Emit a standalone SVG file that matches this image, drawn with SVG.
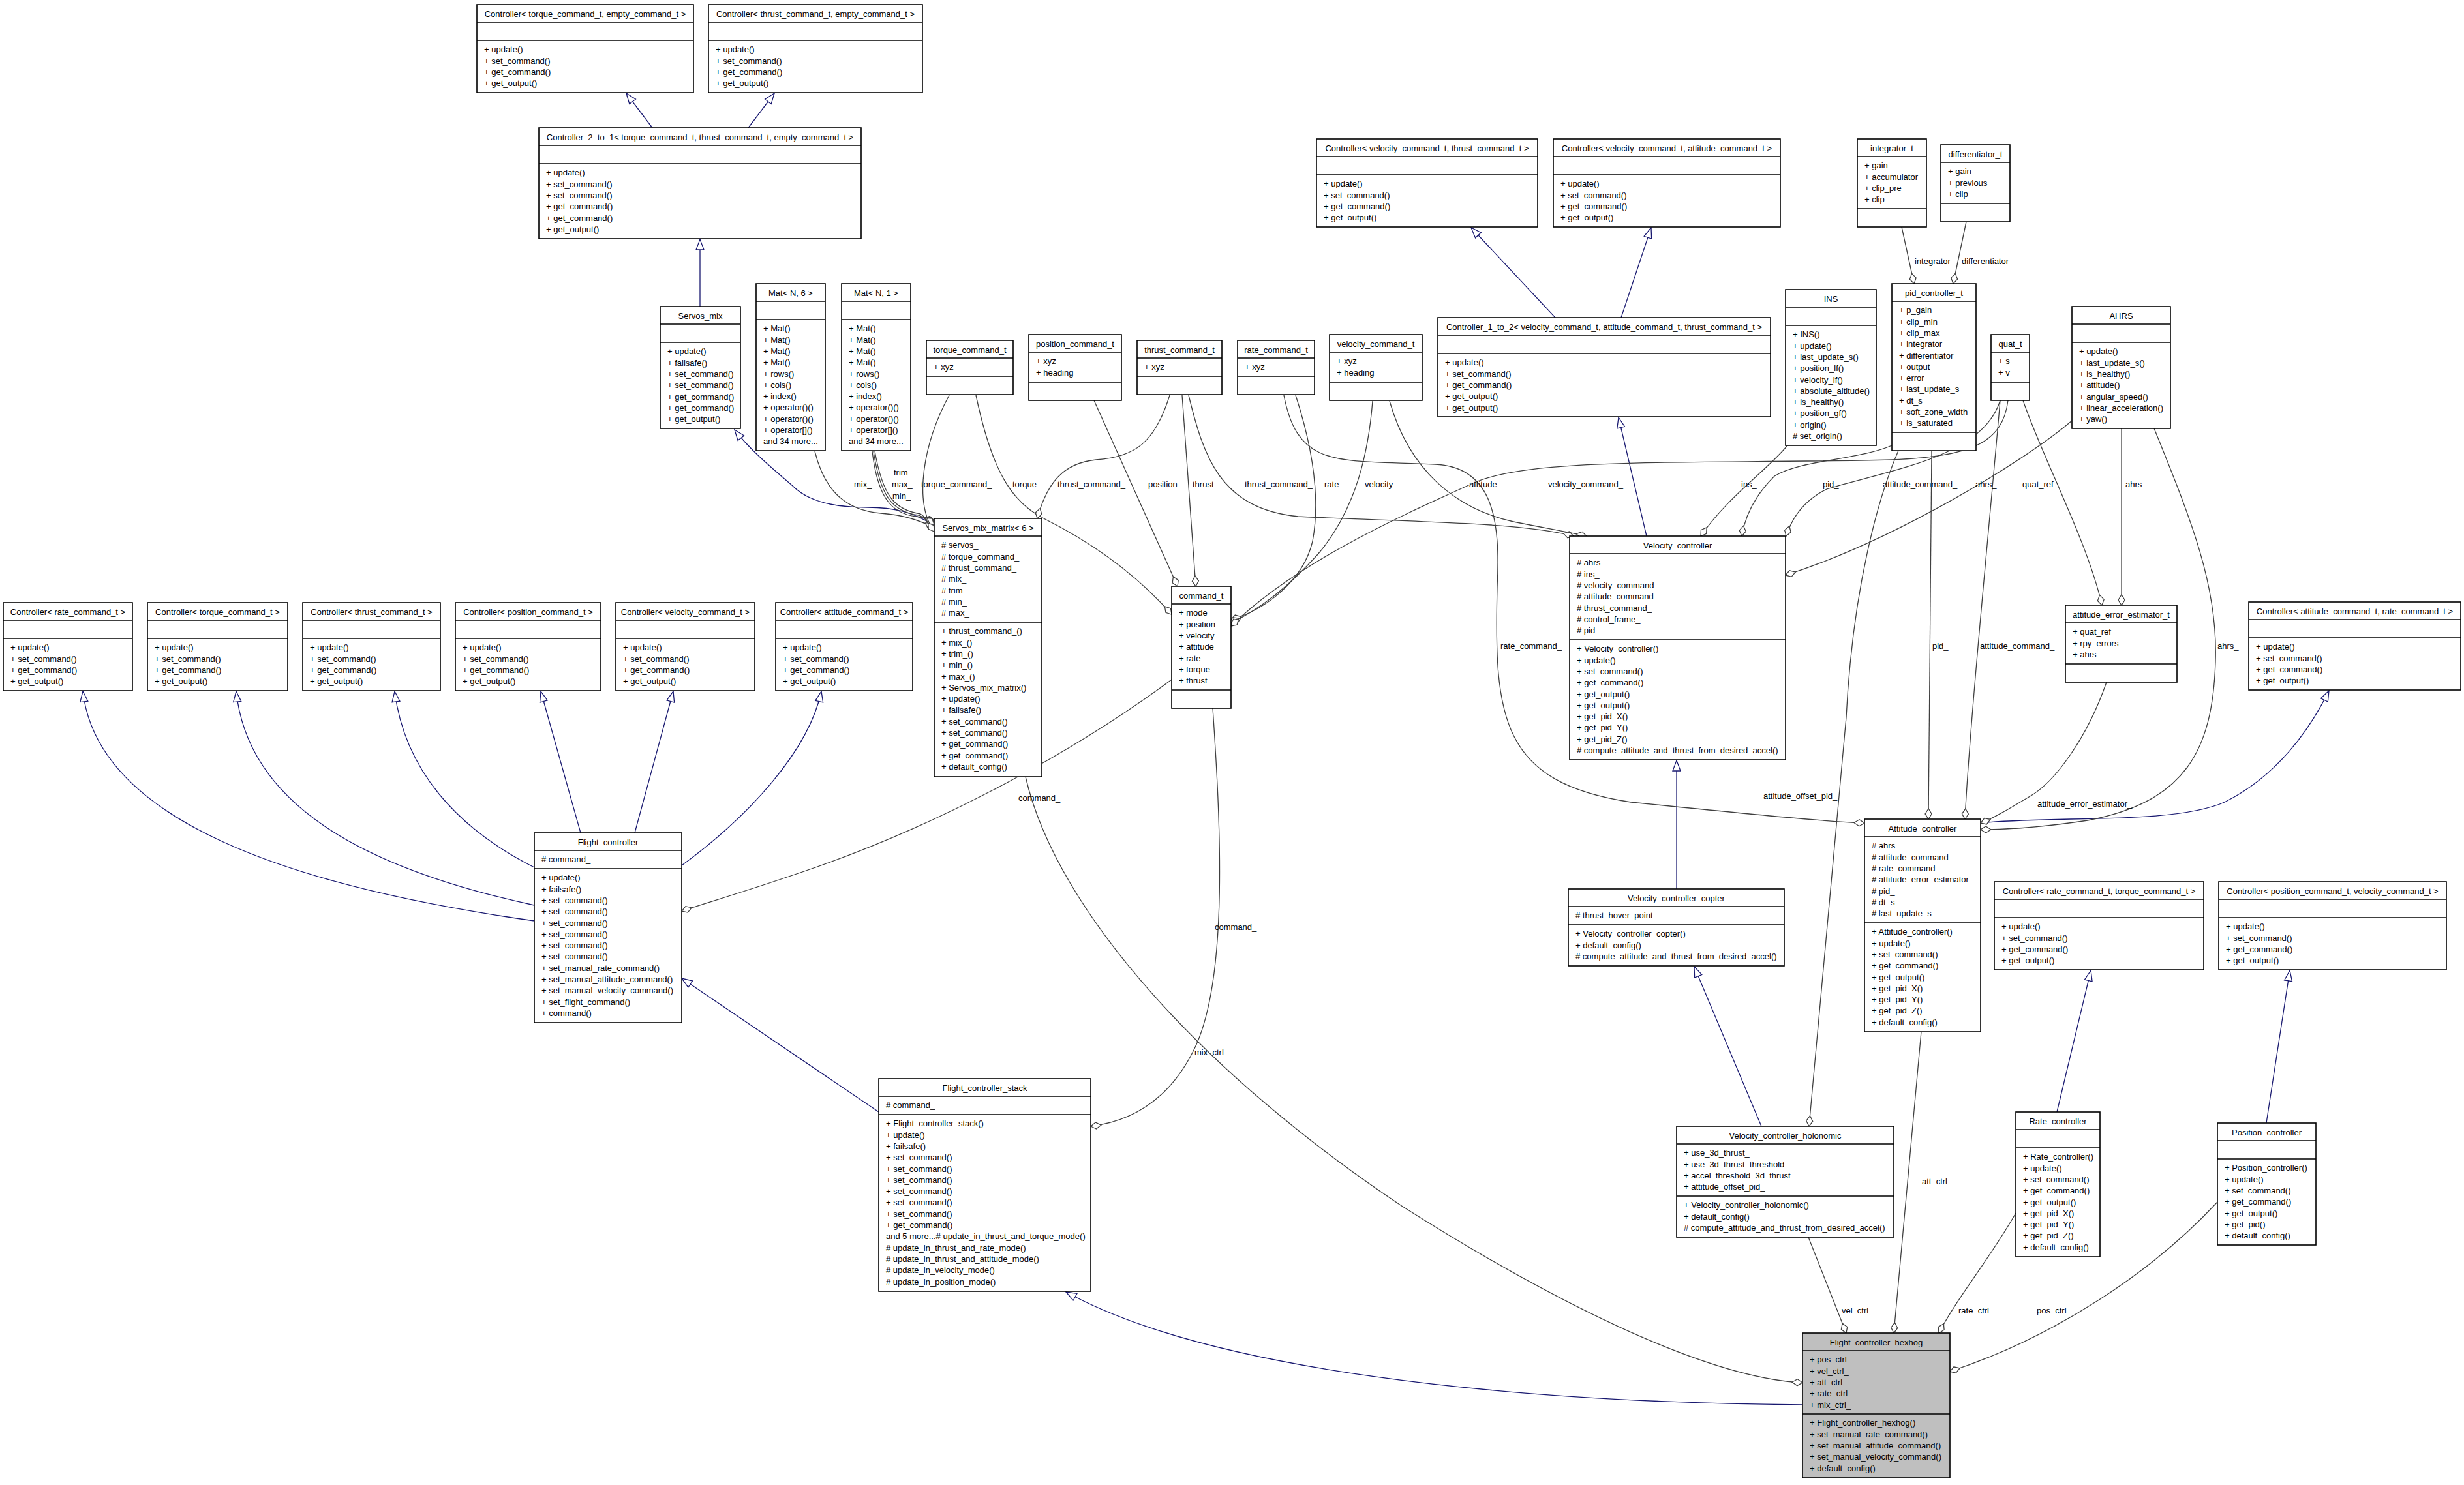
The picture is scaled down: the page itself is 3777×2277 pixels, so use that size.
<svg xmlns="http://www.w3.org/2000/svg" width="3777" height="2277" viewBox="0 0 3777 2277">
<style>
text{font-family:"Liberation Sans",Arial,Helvetica,sans-serif;font-size:13px;fill:#000}
.t{text-anchor:middle}
.n rect{fill:#fff;stroke:#000;stroke-width:1.6}
.n line{stroke:#000;stroke-width:1.6}
.hx rect{fill:#bfbfbf}
.e{fill:none;stroke:#404040;stroke-width:1.3;marker-end:url(#dia)}
.i{fill:none;stroke:#191970;stroke-width:1.3;marker-end:url(#tri)}
</style>
<defs>
<marker id="tri" markerUnits="userSpaceOnUse" markerWidth="20" markerHeight="16" viewBox="-18 -8 19 16" refX="0" refY="0" orient="auto"><path d="M0,0 L-16,-6 L-16,6 Z" fill="#fff" stroke="#191970" stroke-width="1.3"/></marker>
<marker id="dia" markerUnits="userSpaceOnUse" markerWidth="20" markerHeight="14" viewBox="-18 -7 19 14" refX="0" refY="0" orient="auto"><path d="M0,0 L-8,-5 L-16,0 L-8,5 Z" fill="#fff" stroke="#404040" stroke-width="1.3"/></marker>
</defs>
<rect x="0" y="0" width="3777" height="2277" fill="#fff"/>

<g id="edges">
<!-- inheritance -->
<path class="i" d="M1000,196 L960,143"/>
<path class="i" d="M1147,196 L1187,143"/>
<path class="i" d="M1073,470 L1073,367"/>
<path class="i" d="M1432,806 C1400,785 1370,778 1330,778 C1280,778 1240,770 1215,745 C1180,715 1150,690 1126,659"/>
<path class="i" d="M2384,487 L2255,349"/>
<path class="i" d="M2485,487 L2531,349"/>
<path class="i" d="M2524,822 L2481,640"/>
<path class="i" d="M2570,1363 L2570,1166"/>
<path class="i" d="M2700,1727 L2597,1482"/>
<path class="i" d="M819,1412 C450,1360 150,1260 127,1060"/>
<path class="i" d="M819,1388 C550,1330 380,1230 362,1060"/>
<path class="i" d="M819,1330 C700,1270 620,1180 605,1060"/>
<path class="i" d="M890,1277 L829,1060"/>
<path class="i" d="M973,1277 L1032,1060"/>
<path class="i" d="M1045,1327 C1150,1250 1240,1150 1259,1060"/>
<path class="i" d="M1347,1705 L1045,1500"/>
<path class="i" d="M2763,2154 C2300,2150 1850,2100 1634,1981"/>
<path class="i" d="M3036,1262 C3150,1250 3330,1265 3410,1230 C3490,1190 3540,1120 3570,1059"/>
<path class="i" d="M3153,1705 L3205,1488"/>
<path class="i" d="M3474,1722 L3510,1488"/>
<!-- aggregation -->
<path class="e" d="M2915,348 L2934,435"/>
<path class="e" d="M3014,340 L2994,435"/>
<path class="e" d="M1249,692 C1262,745 1290,782 1350,787 C1390,790 1415,800 1432,810"/>
<path class="e" d="M1337,692 C1345,760 1365,788 1405,792 L1432,798"/>
<path class="e" d="M1339,692 C1349,760 1368,785 1408,790 L1432,801"/>
<path class="e" d="M1341,692 C1353,760 1371,782 1411,788 L1432,804"/>
<path class="e" d="M1455,606 C1415,680 1400,770 1432,815"/>
<path class="e" d="M1496,606 C1520,720 1550,770 1600,795 C1690,840 1750,890 1796,942"/>
<path class="e" d="M1793,606 C1770,680 1740,700 1680,705 C1630,710 1605,740 1590,795"/>
<path class="e" d="M1677,614 L1805,899"/>
<path class="e" d="M1812,606 L1833,899"/>
<path class="e" d="M1822,606 C1845,700 1870,780 1990,792 C2150,800 2330,800 2412,822"/>
<path class="e" d="M1986,606 C2010,680 2025,760 2012,830 C1998,890 1940,935 1887,950"/>
<path class="e" d="M1968,606 C1990,720 2050,705 2200,712 C2290,716 2300,800 2295,900 C2290,1100 2300,1200 2500,1230 C2700,1250 2800,1260 2858,1262"/>
<path class="e" d="M2104,615 C2098,690 2080,780 2020,850 C1975,900 1930,935 1887,955"/>
<path class="e" d="M2130,615 C2160,720 2230,780 2320,800 C2370,810 2400,815 2432,822"/>
<path class="e" d="M3078,614 C3070,680 3020,700 2900,705 C2600,712 2350,700 2260,740 C2150,790 1990,860 1887,960"/>
<path class="e" d="M2740,683 C2710,720 2650,760 2607,822"/>
<path class="e" d="M2900,683 C2850,705 2760,705 2720,730 C2690,760 2675,790 2670,822"/>
<path class="e" d="M3066,614 C3040,700 2900,720 2800,750 C2760,770 2745,800 2738,822"/>
<path class="e" d="M3176,645 C3100,710 2900,830 2737,882"/>
<path class="e" d="M3101,614 C3130,700 3200,830 3222,928"/>
<path class="e" d="M3252,657 L3252,928"/>
<path class="e" d="M3302,657 C3360,800 3400,900 3396,1014 C3392,1150 3350,1230 3200,1258 C3120,1270 3060,1272 3036,1272"/>
<path class="e" d="M3229,1046 C3200,1130 3150,1200 3110,1222 C3080,1240 3055,1255 3036,1262"/>
<path class="e" d="M2961,691 L2956,1256"/>
<path class="e" d="M3066,614 C3050,800 3020,1100 3012,1256"/>
<path class="e" d="M2910,691 C2880,760 2840,900 2830,1100 L2773,1727"/>
<path class="e" d="M1572,1191 C1620,1400 1850,1650 2150,1850 C2450,2040 2650,2115 2763,2120"/>
<path class="e" d="M1796,1042 C1650,1150 1450,1260 1250,1330 C1150,1365 1080,1385 1045,1397"/>
<path class="e" d="M1859,1086 C1870,1250 1885,1500 1830,1610 C1790,1690 1730,1720 1672,1727"/>
<path class="e" d="M2945,1582 L2903,2044"/>
<path class="e" d="M2772,1897 L2830,2044"/>
<path class="e" d="M3090,1860 C3050,1930 3000,1990 2972,2044"/>
<path class="e" d="M3399,1843 C3300,1950 3150,2050 2989,2103"/>
<!-- labels -->
<text x="2935" y="405">integrator</text>
<text x="3007" y="405">differentiator</text>
<text x="1309" y="747">mix_</text>
<text x="1370" y="729">trim_</text>
<text x="1367" y="747">max_</text>
<text x="1368" y="765">min_</text>
<text x="1412" y="747">torque_command_</text>
<text x="1552" y="747">torque</text>
<text x="1621" y="747">thrust_command_</text>
<text x="1760" y="747">position</text>
<text x="1828" y="747">thrust</text>
<text x="1908" y="747">thrust_command_</text>
<text x="2030" y="747">rate</text>
<text x="2092" y="747">velocity</text>
<text x="2252" y="747">attitude</text>
<text x="2373" y="747">velocity_command_</text>
<text x="2669" y="747">ins_</text>
<text x="2794" y="747">pid_</text>
<text x="2886" y="747">attitude_command_</text>
<text x="3028" y="747">ahrs_</text>
<text x="3100" y="747">quat_ref</text>
<text x="3258" y="747">ahrs</text>
<text x="2300" y="995">rate_command_</text>
<text x="2962" y="995">pid_</text>
<text x="3035" y="995">attitude_command_</text>
<text x="3399" y="995">ahrs_</text>
<text x="3123" y="1237">attitude_error_estimator_</text>
<text x="2703" y="1225">attitude_offset_pid_</text>
<text x="1561" y="1228">command_</text>
<text x="1862" y="1426">command_</text>
<text x="1831" y="1618">mix_ctrl_</text>
<text x="2946" y="1816">att_ctrl_</text>
<text x="2823" y="2014">vel_ctrl_</text>
<text x="3002" y="2014">rate_ctrl_</text>
<text x="3122" y="2014">pos_ctrl_</text>
</g>

<g id="ctrl_torque_empty" class="n"><rect x="731" y="7" width="332" height="135"/><line x1="731" y1="34" x2="1063" y2="34"/><line x1="731" y1="62" x2="1063" y2="62"/>
<text class="t" x="897" y="25.5">Controller&lt; torque_command_t, empty_command_t &gt;</text>
<text x="742" y="80.3"><tspan x="742" dy="0">+ update()</tspan><tspan x="742" dy="17.3">+ set_command()</tspan><tspan x="742" dy="17.3">+ get_command()</tspan><tspan x="742" dy="17.3">+ get_output()</tspan></text></g>

<g id="ctrl_thrust_empty" class="n"><rect x="1086" y="7" width="328" height="135"/><line x1="1086" y1="34" x2="1414" y2="34"/><line x1="1086" y1="62" x2="1414" y2="62"/>
<text class="t" x="1250" y="25.5">Controller&lt; thrust_command_t, empty_command_t &gt;</text>
<text x="1097" y="80.3"><tspan x="1097" dy="0">+ update()</tspan><tspan x="1097" dy="17.3">+ set_command()</tspan><tspan x="1097" dy="17.3">+ get_command()</tspan><tspan x="1097" dy="17.3">+ get_output()</tspan></text></g>

<g id="ctrl_2_to_1" class="n"><rect x="826" y="196" width="494" height="170"/><line x1="826" y1="223" x2="1320" y2="223"/><line x1="826" y1="251" x2="1320" y2="251"/>
<text class="t" x="1073" y="214.5">Controller_2_to_1&lt; torque_command_t, thrust_command_t, empty_command_t &gt;</text>
<text x="837" y="269.3"><tspan x="837" dy="0">+ update()</tspan><tspan x="837" dy="17.3">+ set_command()</tspan><tspan x="837" dy="17.3">+ set_command()</tspan><tspan x="837" dy="17.3">+ get_command()</tspan><tspan x="837" dy="17.3">+ get_command()</tspan><tspan x="837" dy="17.3">+ get_output()</tspan></text></g>

<g id="servos_mix" class="n"><rect x="1012" y="470" width="123" height="187"/><line x1="1012" y1="497" x2="1135" y2="497"/><line x1="1012" y1="525" x2="1135" y2="525"/>
<text class="t" x="1073.5" y="488.5">Servos_mix</text>
<text x="1023" y="543.3"><tspan x="1023" dy="0">+ update()</tspan><tspan x="1023" dy="17.3">+ failsafe()</tspan><tspan x="1023" dy="17.3">+ set_command()</tspan><tspan x="1023" dy="17.3">+ set_command()</tspan><tspan x="1023" dy="17.3">+ get_command()</tspan><tspan x="1023" dy="17.3">+ get_command()</tspan><tspan x="1023" dy="17.3">+ get_output()</tspan></text></g>

<g id="mat_n6" class="n"><rect x="1159" y="435" width="106" height="256"/><line x1="1159" y1="462" x2="1265" y2="462"/><line x1="1159" y1="490" x2="1265" y2="490"/>
<text class="t" x="1212" y="453.5">Mat&lt; N, 6 &gt;</text>
<text x="1170" y="508.3"><tspan x="1170" dy="0">+ Mat()</tspan><tspan x="1170" dy="17.3">+ Mat()</tspan><tspan x="1170" dy="17.3">+ Mat()</tspan><tspan x="1170" dy="17.3">+ Mat()</tspan><tspan x="1170" dy="17.3">+ rows()</tspan><tspan x="1170" dy="17.3">+ cols()</tspan><tspan x="1170" dy="17.3">+ index()</tspan><tspan x="1170" dy="17.3">+ operator()()</tspan><tspan x="1170" dy="17.3">+ operator()()</tspan><tspan x="1170" dy="17.3">+ operator[]()</tspan><tspan x="1170" dy="17.3">and 34 more...</tspan></text></g>

<g id="mat_n1" class="n"><rect x="1290" y="435" width="106" height="256"/><line x1="1290" y1="462" x2="1396" y2="462"/><line x1="1290" y1="490" x2="1396" y2="490"/>
<text class="t" x="1343" y="453.5">Mat&lt; N, 1 &gt;</text>
<text x="1301" y="508.3"><tspan x="1301" dy="0">+ Mat()</tspan><tspan x="1301" dy="17.3">+ Mat()</tspan><tspan x="1301" dy="17.3">+ Mat()</tspan><tspan x="1301" dy="17.3">+ Mat()</tspan><tspan x="1301" dy="17.3">+ rows()</tspan><tspan x="1301" dy="17.3">+ cols()</tspan><tspan x="1301" dy="17.3">+ index()</tspan><tspan x="1301" dy="17.3">+ operator()()</tspan><tspan x="1301" dy="17.3">+ operator()()</tspan><tspan x="1301" dy="17.3">+ operator[]()</tspan><tspan x="1301" dy="17.3">and 34 more...</tspan></text></g>

<g id="torque_command_t" class="n"><rect x="1420" y="522" width="133" height="83"/><line x1="1420" y1="549" x2="1553" y2="549"/><line x1="1420" y1="577" x2="1553" y2="577"/>
<text class="t" x="1486.5" y="540.5">torque_command_t</text><text x="1431" y="567.3">+ xyz</text></g>

<g id="position_command_t" class="n"><rect x="1577" y="513" width="142" height="101"/><line x1="1577" y1="540" x2="1719" y2="540"/><line x1="1577" y1="586" x2="1719" y2="586"/>
<text class="t" x="1648" y="531.5">position_command_t</text>
<text x="1588" y="558.3"><tspan x="1588" dy="0">+ xyz</tspan><tspan x="1588" dy="17.3">+ heading</tspan></text></g>

<g id="thrust_command_t" class="n"><rect x="1743" y="522" width="130" height="83"/><line x1="1743" y1="549" x2="1873" y2="549"/><line x1="1743" y1="577" x2="1873" y2="577"/>
<text class="t" x="1808" y="540.5">thrust_command_t</text><text x="1754" y="567.3">+ xyz</text></g>

<g id="rate_command_t" class="n"><rect x="1897" y="522" width="118" height="83"/><line x1="1897" y1="549" x2="2015" y2="549"/><line x1="1897" y1="577" x2="2015" y2="577"/>
<text class="t" x="1956" y="540.5">rate_command_t</text><text x="1908" y="567.3">+ xyz</text></g>

<g id="velocity_command_t" class="n"><rect x="2038" y="513" width="142" height="101"/><line x1="2038" y1="540" x2="2180" y2="540"/><line x1="2038" y1="586" x2="2180" y2="586"/>
<text class="t" x="2109" y="531.5">velocity_command_t</text>
<text x="2049" y="558.3"><tspan x="2049" dy="0">+ xyz</tspan><tspan x="2049" dy="17.3">+ heading</tspan></text></g>

<g id="ctrl_vel_thrust" class="n"><rect x="2018" y="213" width="339" height="135"/><line x1="2018" y1="240" x2="2357" y2="240"/><line x1="2018" y1="268" x2="2357" y2="268"/>
<text class="t" x="2187.5" y="231.5">Controller&lt; velocity_command_t, thrust_command_t &gt;</text>
<text x="2029" y="286.3"><tspan x="2029" dy="0">+ update()</tspan><tspan x="2029" dy="17.3">+ set_command()</tspan><tspan x="2029" dy="17.3">+ get_command()</tspan><tspan x="2029" dy="17.3">+ get_output()</tspan></text></g>

<g id="ctrl_vel_att" class="n"><rect x="2381" y="213" width="348" height="135"/><line x1="2381" y1="240" x2="2729" y2="240"/><line x1="2381" y1="268" x2="2729" y2="268"/>
<text class="t" x="2555" y="231.5">Controller&lt; velocity_command_t, attitude_command_t &gt;</text>
<text x="2392" y="286.3"><tspan x="2392" dy="0">+ update()</tspan><tspan x="2392" dy="17.3">+ set_command()</tspan><tspan x="2392" dy="17.3">+ get_command()</tspan><tspan x="2392" dy="17.3">+ get_output()</tspan></text></g>

<g id="ctrl_1_to_2" class="n"><rect x="2204" y="487" width="510" height="152"/><line x1="2204" y1="514" x2="2714" y2="514"/><line x1="2204" y1="542" x2="2714" y2="542"/>
<text class="t" x="2459" y="505.5">Controller_1_to_2&lt; velocity_command_t, attitude_command_t, thrust_command_t &gt;</text>
<text x="2215" y="560.3"><tspan x="2215" dy="0">+ update()</tspan><tspan x="2215" dy="17.3">+ set_command()</tspan><tspan x="2215" dy="17.3">+ get_command()</tspan><tspan x="2215" dy="17.3">+ get_output()</tspan><tspan x="2215" dy="17.3">+ get_output()</tspan></text></g>

<g id="ins" class="n"><rect x="2737" y="444" width="139" height="239"/><line x1="2737" y1="471" x2="2876" y2="471"/><line x1="2737" y1="499" x2="2876" y2="499"/>
<text class="t" x="2806.5" y="462.5">INS</text>
<text x="2748" y="517.3"><tspan x="2748" dy="0">+ INS()</tspan><tspan x="2748" dy="17.3">+ update()</tspan><tspan x="2748" dy="17.3">+ last_update_s()</tspan><tspan x="2748" dy="17.3">+ position_lf()</tspan><tspan x="2748" dy="17.3">+ velocity_lf()</tspan><tspan x="2748" dy="17.3">+ absolute_altitude()</tspan><tspan x="2748" dy="17.3">+ is_healthy()</tspan><tspan x="2748" dy="17.3">+ position_gf()</tspan><tspan x="2748" dy="17.3">+ origin()</tspan><tspan x="2748" dy="17.3"># set_origin()</tspan></text></g>

<g id="integrator_t" class="n"><rect x="2847" y="213" width="106" height="135"/><line x1="2847" y1="240" x2="2953" y2="240"/><line x1="2847" y1="320" x2="2953" y2="320"/>
<text class="t" x="2900" y="231.5">integrator_t</text>
<text x="2858" y="258.3"><tspan x="2858" dy="0">+ gain</tspan><tspan x="2858" dy="17.3">+ accumulator</tspan><tspan x="2858" dy="17.3">+ clip_pre</tspan><tspan x="2858" dy="17.3">+ clip</tspan></text></g>

<g id="differentiator_t" class="n"><rect x="2975" y="222" width="106" height="118"/><line x1="2975" y1="249" x2="3081" y2="249"/><line x1="2975" y1="312" x2="3081" y2="312"/>
<text class="t" x="3028" y="240.5">differentiator_t</text>
<text x="2986" y="267.3"><tspan x="2986" dy="0">+ gain</tspan><tspan x="2986" dy="17.3">+ previous</tspan><tspan x="2986" dy="17.3">+ clip</tspan></text></g>

<g id="pid_controller_t" class="n"><rect x="2900" y="435" width="129" height="256"/><line x1="2900" y1="462" x2="3029" y2="462"/><line x1="2900" y1="663" x2="3029" y2="663"/>
<text class="t" x="2964.5" y="453.5">pid_controller_t</text>
<text x="2911" y="480.3"><tspan x="2911" dy="0">+ p_gain</tspan><tspan x="2911" dy="17.3">+ clip_min</tspan><tspan x="2911" dy="17.3">+ clip_max</tspan><tspan x="2911" dy="17.3">+ integrator</tspan><tspan x="2911" dy="17.3">+ differentiator</tspan><tspan x="2911" dy="17.3">+ output</tspan><tspan x="2911" dy="17.3">+ error</tspan><tspan x="2911" dy="17.3">+ last_update_s</tspan><tspan x="2911" dy="17.3">+ dt_s</tspan><tspan x="2911" dy="17.3">+ soft_zone_width</tspan><tspan x="2911" dy="17.3">+ is_saturated</tspan></text></g>

<g id="quat_t" class="n"><rect x="3052" y="513" width="59" height="101"/><line x1="3052" y1="540" x2="3111" y2="540"/><line x1="3052" y1="586" x2="3111" y2="586"/>
<text class="t" x="3081.5" y="531.5">quat_t</text>
<text x="3063" y="558.3"><tspan x="3063" dy="0">+ s</tspan><tspan x="3063" dy="17.3">+ v</tspan></text></g>

<g id="ahrs" class="n"><rect x="3176" y="470" width="151" height="187"/><line x1="3176" y1="497" x2="3327" y2="497"/><line x1="3176" y1="525" x2="3327" y2="525"/>
<text class="t" x="3251.5" y="488.5">AHRS</text>
<text x="3187" y="543.3"><tspan x="3187" dy="0">+ update()</tspan><tspan x="3187" dy="17.3">+ last_update_s()</tspan><tspan x="3187" dy="17.3">+ is_healthy()</tspan><tspan x="3187" dy="17.3">+ attitude()</tspan><tspan x="3187" dy="17.3">+ angular_speed()</tspan><tspan x="3187" dy="17.3">+ linear_acceleration()</tspan><tspan x="3187" dy="17.3">+ yaw()</tspan></text></g>

<g id="ctrl_rate" class="n"><rect x="5" y="924" width="198" height="135"/><line x1="5" y1="951" x2="203" y2="951"/><line x1="5" y1="979" x2="203" y2="979"/>
<text class="t" x="104" y="942.5">Controller&lt; rate_command_t &gt;</text>
<text x="16" y="997.3"><tspan x="16" dy="0">+ update()</tspan><tspan x="16" dy="17.3">+ set_command()</tspan><tspan x="16" dy="17.3">+ get_command()</tspan><tspan x="16" dy="17.3">+ get_output()</tspan></text></g>

<g id="ctrl_torque" class="n"><rect x="226" y="924" width="215" height="135"/><line x1="226" y1="951" x2="441" y2="951"/><line x1="226" y1="979" x2="441" y2="979"/>
<text class="t" x="333.5" y="942.5">Controller&lt; torque_command_t &gt;</text>
<text x="237" y="997.3"><tspan x="237" dy="0">+ update()</tspan><tspan x="237" dy="17.3">+ set_command()</tspan><tspan x="237" dy="17.3">+ get_command()</tspan><tspan x="237" dy="17.3">+ get_output()</tspan></text></g>

<g id="ctrl_thrust" class="n"><rect x="464" y="924" width="211" height="135"/><line x1="464" y1="951" x2="675" y2="951"/><line x1="464" y1="979" x2="675" y2="979"/>
<text class="t" x="569.5" y="942.5">Controller&lt; thrust_command_t &gt;</text>
<text x="475" y="997.3"><tspan x="475" dy="0">+ update()</tspan><tspan x="475" dy="17.3">+ set_command()</tspan><tspan x="475" dy="17.3">+ get_command()</tspan><tspan x="475" dy="17.3">+ get_output()</tspan></text></g>

<g id="ctrl_position" class="n"><rect x="698" y="924" width="223" height="135"/><line x1="698" y1="951" x2="921" y2="951"/><line x1="698" y1="979" x2="921" y2="979"/>
<text class="t" x="809.5" y="942.5">Controller&lt; position_command_t &gt;</text>
<text x="709" y="997.3"><tspan x="709" dy="0">+ update()</tspan><tspan x="709" dy="17.3">+ set_command()</tspan><tspan x="709" dy="17.3">+ get_command()</tspan><tspan x="709" dy="17.3">+ get_output()</tspan></text></g>

<g id="ctrl_velocity" class="n"><rect x="944" y="924" width="213" height="135"/><line x1="944" y1="951" x2="1157" y2="951"/><line x1="944" y1="979" x2="1157" y2="979"/>
<text class="t" x="1050.5" y="942.5">Controller&lt; velocity_command_t &gt;</text>
<text x="955" y="997.3"><tspan x="955" dy="0">+ update()</tspan><tspan x="955" dy="17.3">+ set_command()</tspan><tspan x="955" dy="17.3">+ get_command()</tspan><tspan x="955" dy="17.3">+ get_output()</tspan></text></g>

<g id="ctrl_attitude" class="n"><rect x="1189" y="924" width="210" height="135"/><line x1="1189" y1="951" x2="1399" y2="951"/><line x1="1189" y1="979" x2="1399" y2="979"/>
<text class="t" x="1294" y="942.5">Controller&lt; attitude_command_t &gt;</text>
<text x="1200" y="997.3"><tspan x="1200" dy="0">+ update()</tspan><tspan x="1200" dy="17.3">+ set_command()</tspan><tspan x="1200" dy="17.3">+ get_command()</tspan><tspan x="1200" dy="17.3">+ get_output()</tspan></text></g>

<g id="servos_mix_matrix" class="n"><rect x="1432" y="795" width="165" height="396"/><line x1="1432" y1="822" x2="1597" y2="822"/><line x1="1432" y1="954" x2="1597" y2="954"/>
<text class="t" x="1514.5" y="813.5">Servos_mix_matrix&lt; 6 &gt;</text>
<text x="1443" y="840.3"><tspan x="1443" dy="0"># servos_</tspan><tspan x="1443" dy="17.3"># torque_command_</tspan><tspan x="1443" dy="17.3"># thrust_command_</tspan><tspan x="1443" dy="17.3"># mix_</tspan><tspan x="1443" dy="17.3"># trim_</tspan><tspan x="1443" dy="17.3"># min_</tspan><tspan x="1443" dy="17.3"># max_</tspan></text>
<text x="1443" y="972.3"><tspan x="1443" dy="0">+ thrust_command_()</tspan><tspan x="1443" dy="17.3">+ mix_()</tspan><tspan x="1443" dy="17.3">+ trim_()</tspan><tspan x="1443" dy="17.3">+ min_()</tspan><tspan x="1443" dy="17.3">+ max_()</tspan><tspan x="1443" dy="17.3">+ Servos_mix_matrix()</tspan><tspan x="1443" dy="17.3">+ update()</tspan><tspan x="1443" dy="17.3">+ failsafe()</tspan><tspan x="1443" dy="17.3">+ set_command()</tspan><tspan x="1443" dy="17.3">+ set_command()</tspan><tspan x="1443" dy="17.3">+ get_command()</tspan><tspan x="1443" dy="17.3">+ get_command()</tspan><tspan x="1443" dy="17.3">+ default_config()</tspan></text></g>

<g id="command_t" class="n"><rect x="1796" y="899" width="91" height="187"/><line x1="1796" y1="926" x2="1887" y2="926"/><line x1="1796" y1="1058" x2="1887" y2="1058"/>
<text class="t" x="1841.5" y="917.5">command_t</text>
<text x="1807" y="944.3"><tspan x="1807" dy="0">+ mode</tspan><tspan x="1807" dy="17.3">+ position</tspan><tspan x="1807" dy="17.3">+ velocity</tspan><tspan x="1807" dy="17.3">+ attitude</tspan><tspan x="1807" dy="17.3">+ rate</tspan><tspan x="1807" dy="17.3">+ torque</tspan><tspan x="1807" dy="17.3">+ thrust</tspan></text></g>

<g id="velocity_controller" class="n"><rect x="2406" y="822" width="331" height="343"/><line x1="2406" y1="849" x2="2737" y2="849"/><line x1="2406" y1="981" x2="2737" y2="981"/>
<text class="t" x="2571.5" y="840.5">Velocity_controller</text>
<text x="2417" y="867.3"><tspan x="2417" dy="0"># ahrs_</tspan><tspan x="2417" dy="17.3"># ins_</tspan><tspan x="2417" dy="17.3"># velocity_command_</tspan><tspan x="2417" dy="17.3"># attitude_command_</tspan><tspan x="2417" dy="17.3"># thrust_command_</tspan><tspan x="2417" dy="17.3"># control_frame_</tspan><tspan x="2417" dy="17.3"># pid_</tspan></text>
<text x="2417" y="999.3"><tspan x="2417" dy="0">+ Velocity_controller()</tspan><tspan x="2417" dy="17.3">+ update()</tspan><tspan x="2417" dy="17.3">+ set_command()</tspan><tspan x="2417" dy="17.3">+ get_command()</tspan><tspan x="2417" dy="17.3">+ get_output()</tspan><tspan x="2417" dy="17.3">+ get_output()</tspan><tspan x="2417" dy="17.3">+ get_pid_X()</tspan><tspan x="2417" dy="17.3">+ get_pid_Y()</tspan><tspan x="2417" dy="17.3">+ get_pid_Z()</tspan><tspan x="2417" dy="17.3"># compute_attitude_and_thrust_from_desired_accel()</tspan></text></g>

<g id="attitude_error_estimator_t" class="n"><rect x="3166" y="928" width="171" height="118"/><line x1="3166" y1="955" x2="3337" y2="955"/><line x1="3166" y1="1018" x2="3337" y2="1018"/>
<text class="t" x="3251.5" y="946.5">attitude_error_estimator_t</text>
<text x="3177" y="973.3"><tspan x="3177" dy="0">+ quat_ref</tspan><tspan x="3177" dy="17.3">+ rpy_errors</tspan><tspan x="3177" dy="17.3">+ ahrs</tspan></text></g>

<g id="ctrl_att_rate" class="n"><rect x="3447" y="923" width="325" height="135"/><line x1="3447" y1="950" x2="3772" y2="950"/><line x1="3447" y1="978" x2="3772" y2="978"/>
<text class="t" x="3609.5" y="941.5">Controller&lt; attitude_command_t, rate_command_t &gt;</text>
<text x="3458" y="996.3"><tspan x="3458" dy="0">+ update()</tspan><tspan x="3458" dy="17.3">+ set_command()</tspan><tspan x="3458" dy="17.3">+ get_command()</tspan><tspan x="3458" dy="17.3">+ get_output()</tspan></text></g>

<g id="attitude_controller" class="n"><rect x="2858" y="1256" width="178" height="326"/><line x1="2858" y1="1283" x2="3036" y2="1283"/><line x1="2858" y1="1415" x2="3036" y2="1415"/>
<text class="t" x="2947" y="1274.5">Attitude_controller</text>
<text x="2869" y="1301.3"><tspan x="2869" dy="0"># ahrs_</tspan><tspan x="2869" dy="17.3"># attitude_command_</tspan><tspan x="2869" dy="17.3"># rate_command_</tspan><tspan x="2869" dy="17.3"># attitude_error_estimator_</tspan><tspan x="2869" dy="17.3"># pid_</tspan><tspan x="2869" dy="17.3"># dt_s_</tspan><tspan x="2869" dy="17.3"># last_update_s_</tspan></text>
<text x="2869" y="1433.3"><tspan x="2869" dy="0">+ Attitude_controller()</tspan><tspan x="2869" dy="17.3">+ update()</tspan><tspan x="2869" dy="17.3">+ set_command()</tspan><tspan x="2869" dy="17.3">+ get_command()</tspan><tspan x="2869" dy="17.3">+ get_output()</tspan><tspan x="2869" dy="17.3">+ get_pid_X()</tspan><tspan x="2869" dy="17.3">+ get_pid_Y()</tspan><tspan x="2869" dy="17.3">+ get_pid_Z()</tspan><tspan x="2869" dy="17.3">+ default_config()</tspan></text></g>

<g id="velocity_controller_copter" class="n"><rect x="2404" y="1363" width="331" height="118"/><line x1="2404" y1="1390" x2="2735" y2="1390"/><line x1="2404" y1="1418" x2="2735" y2="1418"/>
<text class="t" x="2569.5" y="1381.5">Velocity_controller_copter</text>
<text x="2415" y="1408.3"># thrust_hover_point_</text>
<text x="2415" y="1436.3"><tspan x="2415" dy="0">+ Velocity_controller_copter()</tspan><tspan x="2415" dy="17.3">+ default_config()</tspan><tspan x="2415" dy="17.3"># compute_attitude_and_thrust_from_desired_accel()</tspan></text></g>

<g id="velocity_controller_holonomic" class="n"><rect x="2570" y="1727" width="333" height="170"/><line x1="2570" y1="1754" x2="2903" y2="1754"/><line x1="2570" y1="1834" x2="2903" y2="1834"/>
<text class="t" x="2736.5" y="1745.5">Velocity_controller_holonomic</text>
<text x="2581" y="1772.3"><tspan x="2581" dy="0">+ use_3d_thrust_</tspan><tspan x="2581" dy="17.3">+ use_3d_thrust_threshold_</tspan><tspan x="2581" dy="17.3">+ accel_threshold_3d_thrust_</tspan><tspan x="2581" dy="17.3">+ attitude_offset_pid_</tspan></text>
<text x="2581" y="1852.3"><tspan x="2581" dy="0">+ Velocity_controller_holonomic()</tspan><tspan x="2581" dy="17.3">+ default_config()</tspan><tspan x="2581" dy="17.3"># compute_attitude_and_thrust_from_desired_accel()</tspan></text></g>

<g id="ctrl_rate_torque" class="n"><rect x="3057" y="1352" width="321" height="135"/><line x1="3057" y1="1379" x2="3378" y2="1379"/><line x1="3057" y1="1407" x2="3378" y2="1407"/>
<text class="t" x="3217.5" y="1370.5">Controller&lt; rate_command_t, torque_command_t &gt;</text>
<text x="3068" y="1425.3"><tspan x="3068" dy="0">+ update()</tspan><tspan x="3068" dy="17.3">+ set_command()</tspan><tspan x="3068" dy="17.3">+ get_command()</tspan><tspan x="3068" dy="17.3">+ get_output()</tspan></text></g>

<g id="ctrl_pos_vel" class="n"><rect x="3401" y="1352" width="349" height="135"/><line x1="3401" y1="1379" x2="3750" y2="1379"/><line x1="3401" y1="1407" x2="3750" y2="1407"/>
<text class="t" x="3575.5" y="1370.5">Controller&lt; position_command_t, velocity_command_t &gt;</text>
<text x="3412" y="1425.3"><tspan x="3412" dy="0">+ update()</tspan><tspan x="3412" dy="17.3">+ set_command()</tspan><tspan x="3412" dy="17.3">+ get_command()</tspan><tspan x="3412" dy="17.3">+ get_output()</tspan></text></g>

<g id="flight_controller" class="n"><rect x="819" y="1277" width="226" height="291"/><line x1="819" y1="1304" x2="1045" y2="1304"/><line x1="819" y1="1332" x2="1045" y2="1332"/>
<text class="t" x="932" y="1295.5">Flight_controller</text>
<text x="830" y="1322.3"># command_</text>
<text x="830" y="1350.3"><tspan x="830" dy="0">+ update()</tspan><tspan x="830" dy="17.3">+ failsafe()</tspan><tspan x="830" dy="17.3">+ set_command()</tspan><tspan x="830" dy="17.3">+ set_command()</tspan><tspan x="830" dy="17.3">+ set_command()</tspan><tspan x="830" dy="17.3">+ set_command()</tspan><tspan x="830" dy="17.3">+ set_command()</tspan><tspan x="830" dy="17.3">+ set_command()</tspan><tspan x="830" dy="17.3">+ set_manual_rate_command()</tspan><tspan x="830" dy="17.3">+ set_manual_attitude_command()</tspan><tspan x="830" dy="17.3">+ set_manual_velocity_command()</tspan><tspan x="830" dy="17.3">+ set_flight_command()</tspan><tspan x="830" dy="17.3">+ command()</tspan></text></g>

<g id="flight_controller_stack" class="n"><rect x="1347" y="1654" width="325" height="326"/><line x1="1347" y1="1681" x2="1672" y2="1681"/><line x1="1347" y1="1709" x2="1672" y2="1709"/>
<text class="t" x="1509.5" y="1672.5">Flight_controller_stack</text>
<text x="1358" y="1699.3"># command_</text>
<text x="1358" y="1727.3"><tspan x="1358" dy="0">+ Flight_controller_stack()</tspan><tspan x="1358" dy="17.3">+ update()</tspan><tspan x="1358" dy="17.3">+ failsafe()</tspan><tspan x="1358" dy="17.3">+ set_command()</tspan><tspan x="1358" dy="17.3">+ set_command()</tspan><tspan x="1358" dy="17.3">+ set_command()</tspan><tspan x="1358" dy="17.3">+ set_command()</tspan><tspan x="1358" dy="17.3">+ set_command()</tspan><tspan x="1358" dy="17.3">+ set_command()</tspan><tspan x="1358" dy="17.3">+ get_command()</tspan><tspan x="1358" dy="17.3">and 5 more...# update_in_thrust_and_torque_mode()</tspan><tspan x="1358" dy="17.3"># update_in_thrust_and_rate_mode()</tspan><tspan x="1358" dy="17.3"># update_in_thrust_and_attitude_mode()</tspan><tspan x="1358" dy="17.3"># update_in_velocity_mode()</tspan><tspan x="1358" dy="17.3"># update_in_position_mode()</tspan></text></g>

<g id="rate_controller" class="n"><rect x="3090" y="1705" width="129" height="222"/><line x1="3090" y1="1732" x2="3219" y2="1732"/><line x1="3090" y1="1760" x2="3219" y2="1760"/>
<text class="t" x="3154.5" y="1723.5">Rate_controller</text>
<text x="3101" y="1778.3"><tspan x="3101" dy="0">+ Rate_controller()</tspan><tspan x="3101" dy="17.3">+ update()</tspan><tspan x="3101" dy="17.3">+ set_command()</tspan><tspan x="3101" dy="17.3">+ get_command()</tspan><tspan x="3101" dy="17.3">+ get_output()</tspan><tspan x="3101" dy="17.3">+ get_pid_X()</tspan><tspan x="3101" dy="17.3">+ get_pid_Y()</tspan><tspan x="3101" dy="17.3">+ get_pid_Z()</tspan><tspan x="3101" dy="17.3">+ default_config()</tspan></text></g>

<g id="position_controller" class="n"><rect x="3399" y="1722" width="151" height="187"/><line x1="3399" y1="1749" x2="3550" y2="1749"/><line x1="3399" y1="1777" x2="3550" y2="1777"/>
<text class="t" x="3474.5" y="1740.5">Position_controller</text>
<text x="3410" y="1795.3"><tspan x="3410" dy="0">+ Position_controller()</tspan><tspan x="3410" dy="17.3">+ update()</tspan><tspan x="3410" dy="17.3">+ set_command()</tspan><tspan x="3410" dy="17.3">+ get_command()</tspan><tspan x="3410" dy="17.3">+ get_output()</tspan><tspan x="3410" dy="17.3">+ get_pid()</tspan><tspan x="3410" dy="17.3">+ default_config()</tspan></text></g>

<g id="flight_controller_hexhog" class="n hx"><rect x="2763" y="2044" width="226" height="222"/><line x1="2763" y1="2071" x2="2989" y2="2071"/><line x1="2763" y1="2168" x2="2989" y2="2168"/>
<text class="t" x="2876" y="2062.5">Flight_controller_hexhog</text>
<text x="2774" y="2089.3"><tspan x="2774" dy="0">+ pos_ctrl_</tspan><tspan x="2774" dy="17.3">+ vel_ctrl_</tspan><tspan x="2774" dy="17.3">+ att_ctrl_</tspan><tspan x="2774" dy="17.3">+ rate_ctrl_</tspan><tspan x="2774" dy="17.3">+ mix_ctrl_</tspan></text>
<text x="2774" y="2186.3"><tspan x="2774" dy="0">+ Flight_controller_hexhog()</tspan><tspan x="2774" dy="17.3">+ set_manual_rate_command()</tspan><tspan x="2774" dy="17.3">+ set_manual_attitude_command()</tspan><tspan x="2774" dy="17.3">+ set_manual_velocity_command()</tspan><tspan x="2774" dy="17.3">+ default_config()</tspan></text></g>
</svg>
